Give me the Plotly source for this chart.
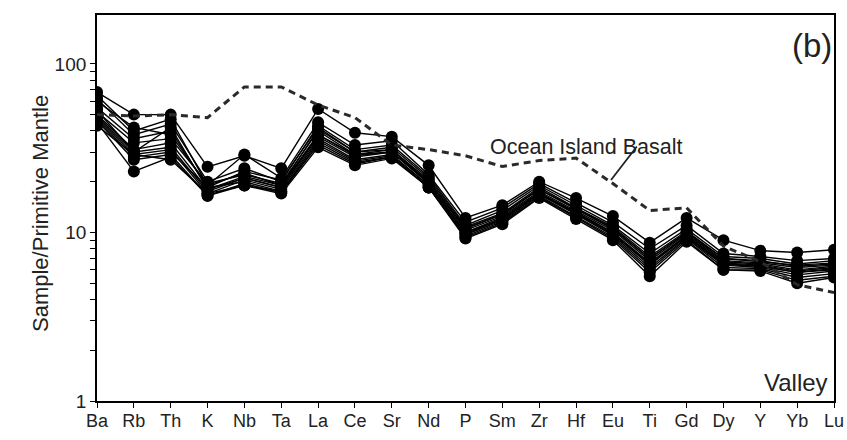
import math
import plotly.graph_objects as go

elements = ["Ba", "Rb", "Th", "K", "Nb", "Ta", "La", "Ce", "Sr", "Nd", "P",
            "Sm", "Zr", "Hf", "Eu", "Ti", "Gd", "Dy", "Y", "Yb", "Lu"]

# Ocean Island Basalt reference pattern (primitive-mantle normalised)
oib = [50, 49, 50, 48, 73, 73, 57, 48, 33, 31, 28.5,
       24.6, 26.7, 27.6, 19.5, 13.5, 14, 8.3, 6.7, 4.9, 4.4]

# Valley samples (primitive-mantle normalised)
s01 = [68, 50, 50, 24.5, 28.5, 24, 54, 39, 37, 25, 12.2, 14.5, 20, 16, 12.5, 8.7, 12.2, 9.0, 7.8, 7.6, 7.9]
s02 = [65, 40, 47, 19, 29, 21, 45, 33, 35, 22, 11.5, 14, 19.5, 15, 11.5, 8, 11, 7.5, 7.2, 6.8, 7.0]
s03 = [62, 38, 44, 20, 24, 20, 43, 31, 33, 21.5, 11, 13.5, 19, 14.5, 11, 7.5, 10.5, 7.2, 7.0, 6.5, 6.8]
s04 = [55, 36, 40, 18.5, 23, 20.5, 42, 30, 32, 21, 10.8, 13, 18.5, 14, 10.8, 7.2, 10.2, 7.0, 6.8, 6.3, 6.5]
s05 = [52, 34, 36, 19.5, 22, 19.5, 40, 29, 31, 20.5, 10.5, 12.8, 18, 13.8, 10.5, 7, 10, 6.8, 6.6, 6.2, 6.4]
s06 = [50, 31, 34, 18, 21.5, 19, 38, 28.5, 30, 20, 10.3, 12.5, 17.5, 13.5, 10.3, 6.8, 9.8, 6.7, 6.5, 6.0, 6.3]
s07 = [49, 30, 32, 17.5, 21, 18.5, 37, 28, 30, 19.5, 10, 12.3, 17.2, 13.2, 10, 6.6, 9.6, 6.6, 6.4, 5.9, 6.2]
s08 = [48, 29, 31, 17, 20.5, 18, 36, 27, 29, 19, 9.8, 12, 17, 13, 9.8, 6.4, 9.5, 6.5, 6.3, 5.8, 6.1]
s09 = [47, 28, 30, 18.5, 20, 17.5, 35, 26.5, 28.5, 19, 9.7, 11.8, 16.8, 12.8, 9.6, 6.2, 9.3, 6.4, 6.2, 5.6, 5.9]
s10 = [46, 27, 29, 16.5, 19.5, 17.2, 34, 26, 28, 18.5, 9.5, 11.6, 16.5, 12.5, 9.4, 6, 9.2, 6.2, 6.1, 5.4, 5.7]
s11 = [45, 23, 28, 16.5, 19, 17.5, 33, 25.5, 28, 18.5, 9.3, 11.4, 16.2, 12.3, 9.2, 5.8, 9.0, 6.0, 6.0, 5.2, 5.5]
s12 = [43, 29, 27, 17, 19, 17, 32, 25, 27.5, 18.5, 9.2, 11.2, 16, 12, 9, 5.5, 8.8, 6.0, 5.9, 5.0, 5.4]
s13 = [60, 42, 38, 19, 22.5, 19, 41, 30, 31, 20, 10.6, 12.8, 18, 13.8, 10.6, 7, 10, 7.0, 6.7, 6.4, 6.6]
s14 = [53, 30, 42, 18, 21, 18.5, 38, 29, 30, 19.5, 10, 12, 17, 13, 9.8, 6.5, 9.5, 6.5, 6.3, 5.8, 6.0]
samples = [s01, s02, s03, s04, s05, s06, s07, s08, s09, s10, s11, s12, s13, s14]

y_major = [1, 10, 100]
y_ticks = [v * d for d in (1, 10, 100) for v in range(1, 10)] + [1000]
y_text = [str(v) if v in y_major else "" for v in y_ticks]

xs = list(range(len(elements)))
FONT = "Liberation Sans, Arial, sans-serif"

fig = go.Figure()
for s in samples:
    fig.add_trace(go.Scatter(
        x=xs, y=s, mode="lines+markers",
        line=dict(color="black", width=1.4),
        marker=dict(color="black", size=12),
        showlegend=False, hoverinfo="skip"))

fig.add_trace(go.Scatter(
    x=xs, y=oib, mode="lines",
    line=dict(color="#2a2a2a", width=3, dash="7px,5px"),
    showlegend=False, hoverinfo="skip"))

def px_x(p):
    return (p - 97) / 737.0

def px_y(p):
    return (401 - p) / 386.0

fig.add_annotation(text="Ocean Island Basalt", x=px_x(586), y=px_y(133),
                   xref="paper", yref="paper", showarrow=False,
                   font=dict(family=FONT, size=21.5, color="#222"))
fig.add_annotation(text="", x=px_x(611), y=px_y(180), xref="paper", yref="paper",
                   showarrow=True, arrowhead=0, arrowwidth=1.8, arrowcolor="#222",
                   ax=27, ay=-35)
fig.add_annotation(text="(b)", x=1, y=1, xref="paper", yref="paper",
                   xanchor="right", yanchor="top", xshift=0, yshift=-10,
                   showarrow=False, font=dict(family=FONT, size=33, color="#222"))
fig.add_annotation(text="Valley", x=1, y=0, xref="paper", yref="paper",
                   xanchor="right", yanchor="bottom", xshift=-4, yshift=3,
                   showarrow=False, font=dict(family=FONT, size=24, color="#222"))
fig.add_annotation(text="Sample/Primitive Mantle", x=px_x(40), y=px_y(214),
                   xref="paper", yref="paper", showarrow=False, textangle=-90,
                   xanchor="center", yanchor="middle",
                   font=dict(family=FONT, size=22, color="#222"))

fig.update_layout(
    width=847, height=440,
    margin=dict(l=97, r=13, t=15, b=39),
    plot_bgcolor="white", paper_bgcolor="white",
    font=dict(family=FONT, size=18, color="#222"),
)
fig.update_xaxes(
    range=[0, 20], tickvals=xs, ticktext=elements,
    showgrid=False, zeroline=False, automargin=False,
    showline=True, linecolor="black", linewidth=1.8, mirror=True,
    ticks="outside", ticklen=5, tickcolor="black", tickwidth=1.3,
    tickfont=dict(size=18), ticklabelstandoff=-3,
)
fig.update_yaxes(
    type="log", range=[0, 2.29],
    tickvals=y_ticks, ticktext=y_text,
    showgrid=False, zeroline=False, automargin=False,
    showline=True, linecolor="black", linewidth=1.8, mirror=True,
    ticks="outside", ticklen=5, tickcolor="black", tickwidth=1.3,
    tickfont=dict(size=19),
)

fig.write_html("out.html")
